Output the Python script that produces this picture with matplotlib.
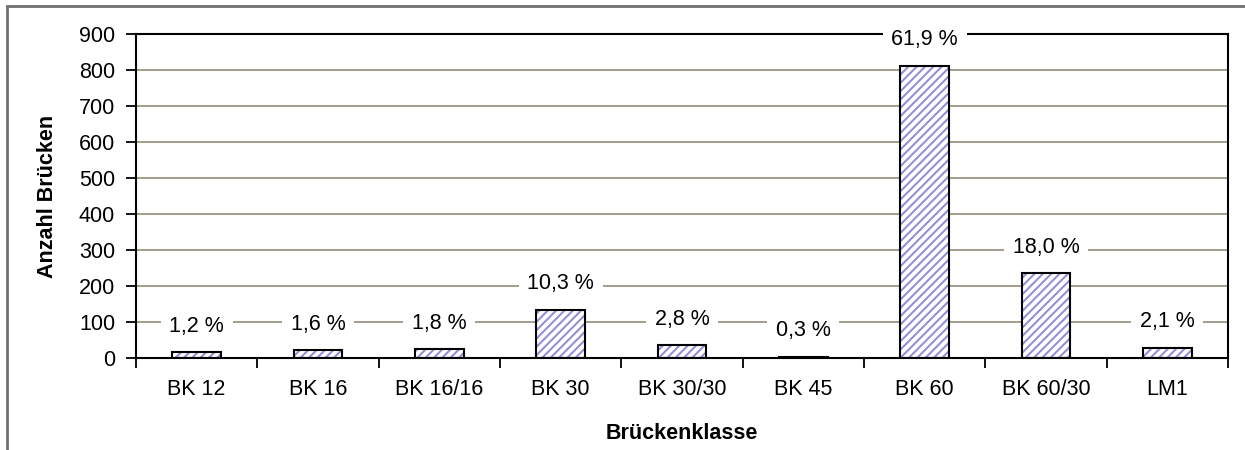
import matplotlib
matplotlib.use('Agg')
import matplotlib.pyplot as plt
from matplotlib.patches import Rectangle
import numpy as np

klassen = ["BK 12", "BK 16", "BK 16/16", "BK 30", "BK 30/30", "BK 45", "BK 60", "BK 60/30", "LM1"]
anzahl = [16, 21, 24, 134, 36, 4, 812, 236, 28]
anteil = ["1,2 %", "1,6 %", "1,8 %", "10,3 %", "2,8 %", "0,3 %", "61,9 %", "18,0 %", "2,1 %"]
y_ticks = [0, 100, 200, 300, 400, 500, 600, 700, 800, 900]

plt.rcParams['font.family'] = ['Liberation Sans', 'DejaVu Sans']
plt.rcParams['font.size'] = 15.5
plt.rcParams['hatch.linewidth'] = 1.5

fig = plt.figure(figsize=(12.45, 4.5), dpi=100)
ax = fig.add_axes([136/1245, 1 - 358/450, (1228-136)/1245, (358-34)/450])

# outer frame (grey), only top and left visible
fig.patches.append(Rectangle((7/1245, -0.1), 1.2, (450-6)/450 + 0.1, transform=fig.transFigure,
                             fill=False, edgecolor='#707070', linewidth=2))

x = np.arange(len(klassen))
ax.bar(x, anzahl, width=0.4, color='white', edgecolor='#958fd8', hatch='////', linewidth=0, zorder=2)
ax.bar(x, anzahl, width=0.4, fill=False, edgecolor='black', linewidth=1.5, zorder=3)

for xi, v, t in zip(x, anzahl, anteil):
    ax.annotate(t, (xi, v), xytext=(0, 18.7), textcoords='offset points',
                ha='center', va='center', zorder=4,
                bbox=dict(boxstyle='square,pad=0.4', facecolor='white', edgecolor='none'))

ax.set_xlim(-0.5, len(klassen) - 0.5)
ax.set_ylim(0, 900)
ax.set_yticks(y_ticks)
ax.set_xticks(x)
ax.set_xticklabels(klassen)
ax.set_xticks(np.arange(len(klassen) + 1) - 0.5, minor=True)
ax.tick_params(axis='x', which='major', length=0, pad=15)
ax.tick_params(axis='x', which='minor', length=7, width=1.3, direction='out')
ax.tick_params(axis='y', length=7, width=1.3, direction='out', pad=8)

ax.yaxis.grid(True, color='#9c9584', linewidth=1.3, zorder=0)
ax.set_axisbelow(True)
for s in ax.spines.values():
    s.set_linewidth(1.5)
    s.set_color('black')

ax.set_xlabel("Brückenklasse", fontweight='bold', labelpad=17)
ax.set_ylabel("Anzahl Brücken", fontweight='bold', labelpad=15)

fig.savefig("out.png", dpi=100)
